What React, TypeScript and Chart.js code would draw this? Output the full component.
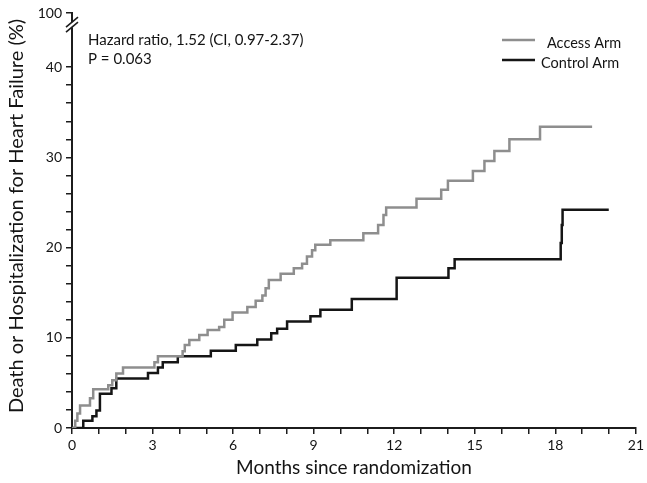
import React, { useEffect, useRef } from "react";
import { Chart, registerables } from "chart.js";

Chart.register(...registerables);

// ---- Data ----
const accessMonths = [0, 0.12, 0.2, 0.3, 0.67, 0.79, 1.35, 1.5, 1.65, 1.9, 3.07, 3.2, 4.12, 4.2, 4.37, 4.74, 5.05, 5.48, 5.67, 5.98, 6.53, 6.84, 7.09, 7.21, 7.33, 7.77, 8.26, 8.57, 8.75, 8.94, 9.06, 9.62, 10.85, 11.4, 11.6, 11.7, 12.83, 13.75, 14.0, 14.93, 15.36, 15.73, 16.29, 17.43, 19.37];
const accessPct = [0, 0.8, 1.6, 2.5, 3.3, 4.3, 4.75, 5.3, 6.05, 6.7, 7.3, 7.95, 8.5, 9.2, 9.75, 10.3, 10.85, 11.2, 12.0, 12.8, 13.4, 14.1, 14.7, 15.5, 16.4, 17.1, 17.7, 18.2, 19.0, 19.7, 20.3, 20.8, 21.6, 22.5, 23.6, 24.45, 25.4, 26.4, 27.4, 28.5, 29.6, 30.7, 32.0, 33.4, 33.4];

const controlMonths = [0, 0.42, 0.76, 0.91, 1.04, 1.47, 1.65, 2.83, 3.2, 3.38, 3.94, 5.17, 6.1, 6.9, 7.42, 7.64, 8.01, 8.88, 9.25, 10.42, 12.09, 14.02, 14.25, 18.2, 18.24, 18.27, 19.99];
const controlPct = [0, 0.8, 1.3, 1.95, 3.8, 4.4, 5.5, 6.1, 6.7, 7.3, 7.95, 8.55, 9.2, 9.8, 10.5, 11.0, 11.8, 12.4, 13.1, 14.3, 16.65, 17.7, 18.7, 20.5, 22.5, 24.2, 24.2];

const seriesLabels = ["Access Arm", "Control Arm"];
const seriesColors = ["#8e8e8e", "#151515"];

const xTickValues = [0, 1, 2, 3, 4, 5, 6, 7, 8, 9, 10, 11, 12, 13, 14, 15, 16, 17, 18, 19, 20, 21];
const xLabelEvery = 3;
const yTickValues = [0, 2, 4, 6, 8, 10, 12, 14, 16, 18, 20, 22, 24, 26, 28, 30, 32, 34, 36, 38, 40];
const yTopValue = 46; // position of the "100" label above the axis break
const yTopLabel = "100";
const yBreakValue = 44.7;

const annotationLines = ["Hazard ratio, 1.52 (CI, 0.97-2.37)", "P = 0.063"];
const xTitle = "Months since randomization";
const yTitle = "Death or Hospitalization for Heart Failure (%)";

const FONT = "Lato";
const AXIS_COLOR = "#1c1c1c";
const TEXT_COLOR = "#141414";

const overlayPlugin = {
  id: "overlay",
  afterDraw(chart: any) {
    const ctx = chart.ctx;
    const y = chart.scales.y;
    const x = chart.scales.x;
    const axisX = x.left;
    // axis break
    const by = y.getPixelForValue(yBreakValue);
    ctx.save();
    ctx.fillStyle = "#ffffff";
    ctx.fillRect(axisX - 3, by - 2.5, 6, 5);
    ctx.strokeStyle = AXIS_COLOR;
    ctx.lineWidth = 1.6;
    for (const off of [-2.5, 2.5]) {
      ctx.beginPath();
      ctx.moveTo(axisX - 6, by + off + 5);
      ctx.lineTo(axisX + 6, by + off - 5);
      ctx.stroke();
    }
    // y title
    ctx.save();
    ctx.translate(17, 216);
    ctx.rotate(-Math.PI / 2);
    ctx.fillStyle = TEXT_COLOR;
    ctx.font = `20px ${FONT}`;
    ctx.textAlign = "center";
    ctx.textBaseline = "middle";
    ctx.fillText(yTitle, 0, 0);
    ctx.restore();
    // annotation
    ctx.fillStyle = TEXT_COLOR;
    ctx.font = `15px ${FONT}`;
    ctx.textAlign = "left";
    ctx.textBaseline = "middle";
    ctx.fillText(annotationLines[0], 88, 40);
    ctx.fillText(annotationLines[1], 88, 59);
    // legend
    const rows = [41, 61];
    const textX = [547, 541];
    chart.data.datasets.forEach((ds: any, i: number) => {
      ctx.strokeStyle = ds.borderColor;
      ctx.lineWidth = 2.5;
      ctx.beginPath();
      ctx.moveTo(502, rows[i] - 1);
      ctx.lineTo(535, rows[i] - 1);
      ctx.stroke();
      ctx.fillStyle = TEXT_COLOR;
      ctx.textAlign = "left";
      ctx.font = `14.5px ${FONT}`;
      ctx.fillText(ds.label, textX[i], rows[i] + 2);
    });
    ctx.restore();
  },
};

export default function App() {
  const canvasRef = useRef<HTMLCanvasElement | null>(null);

  useEffect(() => {
    if (!canvasRef.current) return;
    const accessData = accessMonths.map((m, i) => ({ x: m, y: accessPct[i] }));
    const controlData = controlMonths.map((m, i) => ({ x: m, y: controlPct[i] }));
    const chart = new Chart(canvasRef.current, {
      type: "line",
      data: {
        datasets: [
          {
            label: seriesLabels[0],
            data: accessData,
            borderColor: seriesColors[0],
            borderWidth: 2.5,
            pointRadius: 0,
            stepped: "before",
            fill: false,
          },
          {
            label: seriesLabels[1],
            data: controlData,
            borderColor: seriesColors[1],
            borderWidth: 2.5,
            pointRadius: 0,
            stepped: "before",
            fill: false,
          },
        ],
      },
      options: {
        animation: false,
        responsive: false,
        layout: { padding: { top: 13, right: 8, left: 0, bottom: 0 } },
        plugins: {
          legend: { display: false },
          tooltip: { enabled: false },
        },
        scales: {
          x: {
            type: "linear",
            min: 0,
            max: 21,
            afterBuildTicks: (scale: any) => {
              scale.ticks = xTickValues.map((v) => ({ value: v }));
            },
            afterFit: (scale: any) => {
              scale.height = 55;
            },
            ticks: {
              autoSkip: false,
              maxRotation: 0,
              padding: 3,
              color: TEXT_COLOR,
              font: { family: FONT, size: 14 },
              callback: (v: any) => (Number(v) % xLabelEvery === 0 ? String(v) : ""),
            },
            grid: { drawOnChartArea: false, drawTicks: true, tickLength: 6, color: AXIS_COLOR, lineWidth: 1.5 },
            border: { display: true, color: AXIS_COLOR, width: 2 },
            title: {
              display: true,
              text: xTitle,
              color: TEXT_COLOR,
              font: { family: FONT, size: 19 },
              padding: { top: 0, bottom: 4 },
            },
          },
          y: {
            type: "linear",
            min: 0,
            max: yTopValue,
            afterBuildTicks: (scale: any) => {
              scale.ticks = [...yTickValues, yTopValue].map((v) => ({ value: v }));
            },
            afterFit: (scale: any) => {
              scale.width = 72;
            },
            ticks: {
              autoSkip: false,
              padding: 4,
              color: TEXT_COLOR,
              font: { family: FONT, size: 14 },
              callback: (v: any) => {
                const n = Number(v);
                if (n === yTopValue) return yTopLabel;
                return n % 10 === 0 ? String(n) : "";
              },
            },
            grid: { drawOnChartArea: false, drawTicks: true, tickLength: 6, color: AXIS_COLOR, lineWidth: 1.5 },
            border: { display: true, color: AXIS_COLOR, width: 2 },
            title: { display: false },
          },
        },
      },
      plugins: [overlayPlugin],
    });
    return () => chart.destroy();
  }, []);

  return (
    <div style={{ position: "fixed", left: 0, top: 0, width: 647, height: 483, background: "#fff" }}>
      <canvas ref={canvasRef} width={647} height={483} style={{ display: "block" }} />
    </div>
  );
}
